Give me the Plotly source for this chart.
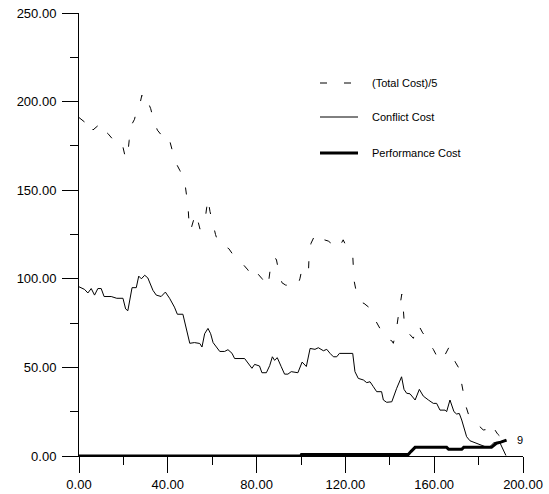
import plotly.graph_objects as go

# ---- data ----
conflict_x = [0, 1, 2.5, 4, 5.5, 7, 8.5, 10, 11.3, 14.5, 17, 19.8, 21, 22, 23.9, 25.8, 26.9, 28.1, 29.6, 31,
              33.3, 34.8, 37, 38.9, 40.8, 43, 44.3, 46.8, 48.3, 49.9, 52, 54.4, 55.4, 56.6, 58.1, 59.3, 60.4,
              61.9, 63.4, 65.6, 67.1, 68.9, 70.1, 74.6, 76.1, 77.9, 79.1, 81.3, 82.4, 84.4, 85.9, 87.1, 88.1,
              89.3, 91.1, 92.6, 94.1, 95.6, 98.6, 100.5, 102.4, 104.1, 106.3, 107.8, 110.1, 111.6, 113.1,
              114.6, 116.1, 117.3, 123.3, 124.3, 125.8, 128.1, 129.6, 131.1, 132.6, 134.1, 136.3, 137.1,
              138.6, 140.9, 143.1, 145.3, 146.4, 147.6, 149.1, 151.4, 153.3, 155.1, 157.4, 159.6, 161.1,
              162.6, 164.9, 165.6, 167.1, 168.9, 170.1, 171.3, 172.4, 173.4, 174.6, 176.1, 178.4, 180.6,
              182.9, 185.1, 186.9, 189.6, 190.4, 192.3]
conflict_y = [95.5, 95, 94, 92, 94.5, 90.8, 94.5, 94.5, 90, 90, 89, 89, 83, 82, 95, 95, 101.5, 100, 102, 100.5,
              93.5, 90.8, 90, 92.5, 89, 84, 80, 80, 72, 63.6, 64, 63.5, 61.5, 69, 72, 69, 64,
              61.7, 59, 59, 60, 58, 55, 55, 52.3, 49.5, 51.7, 50.8, 47, 47, 51, 56, 54,
              55.5, 50.4, 46.2, 46.2, 47.6, 47, 53, 50.5, 60.7, 60.2, 61.1, 59.4, 60.2, 57.9,
              56, 56, 57.9, 57.9, 47.6, 43.8, 42.9, 41.4, 41.9, 39.1, 36.3, 36.3, 31.6,
              30.3, 30.6, 38.2, 44.7, 37.6, 35.4, 35.1, 31.6, 37.6, 33.8, 31.6, 29.7, 29.7,
              25.9, 25.9, 25.0, 31.6, 25, 23.7, 24, 20.3, 15.6, 10.9, 8.6, 7.5, 6.2,
              5.3, 5.3, 7.5, 7.5, 5.3, 0.3]

perf_x = [0, 99.8, 100.2, 148.3, 149.5, 151.4, 165.6, 166.5, 172.4, 173.3, 185.8, 188, 190, 192.6]
perf_y = [0, 0, 0.8, 0.8, 2.5, 4.9, 4.9, 3.8, 3.8, 4.9, 4.9, 7.2, 7.8, 9]

total_x = [0, 1.5, 2.5, 4, 5.5, 6.3, 8, 10, 11, 13, 15.3, 18.3, 19.5, 20.6, 21.3, 21.9, 22.6, 23.3, 25, 26.3,
           27.5, 28.3, 28.8, 29.3, 31, 32.3, 33.5, 35.3, 36.8, 38.5, 40.4, 42, 43.4, 45.5, 47.6, 49.1, 49.7,
           50.2, 51, 52.5, 53.5, 54.5, 55.4, 56.6, 57.5, 58.1, 59, 60.1, 61.5, 62.9, 65.3, 67.5, 69.8, 72,
           74, 76.1, 77.5, 79.1, 80.6, 82.5, 83.9, 85.1, 86, 86.6, 87.5, 88.9, 90, 91.4, 93, 96.4, 98.3,
           99.5, 100.1, 101.5, 102.4, 103.3, 103.7, 104.5, 105.9, 107.8, 109.5, 110.5, 112.3, 114.5, 116.8,
           119, 120.5, 123.3, 123.9, 125, 126.6, 128.4, 130.5, 132.3, 134.5, 136.8, 138.5, 140.9, 141.6,
           142.8, 143.8, 145.4, 145.9, 146.4, 148, 149.5, 150.6, 151.5, 152.8, 154.8, 156.5, 158, 159.6,
           162.3, 164, 166.8, 167.9, 169.5, 171.3, 172.2, 173.1, 174.3, 175.4, 176.4, 178.5, 180.6, 182.1,
           184, 185.9, 186.6, 188.5, 190.4, 191.4, 192.3]
total_y = [191, 189.5, 188.5, 186, 188, 184, 186, 188, 184, 182, 178.6, 178.6, 176, 170, 172, 169.8, 178, 186, 190, 197,
           199, 203.6, 202.3, 204, 200, 196, 190, 183.9, 181.6, 183, 180, 172, 166, 161, 155, 141, 129,
           127, 131, 137, 133, 128, 129, 131.6, 140, 145.3, 138, 131.6, 125, 119.6, 118.6, 117, 112.8, 110,
           108, 105, 102, 104.9, 103, 100, 97.7, 95.5, 104, 110, 112, 111, 104, 97.8, 96.5, 96, 95.5,
           100, 103.5, 104, 103, 102, 115, 120, 123.7, 122.2, 124.5, 122, 121.3, 119, 116.8,
           122, 118, 113.3, 99, 92, 87, 86.1, 84, 79.3, 74, 69.2, 66, 65, 63.6,
           70, 78.6, 91.4, 86, 77.4, 70, 67.7, 66.4, 70, 74.2, 69.5, 67, 63, 60.2,
           53.6, 55, 61.7, 57.5, 53, 49.2, 42, 36, 28, 23.7, 21.8, 19, 16.2, 14.7,
           15, 18.4, 16.2, 12.5, 10.2, 8.1, 3.5]

series_names = ["(Total Cost)/5", "Conflict Cost", "Performance Cost"]
end_label = "9"
end_label_x = 196.4
end_label_y = 9

FONT = "Liberation Sans, Arial, sans-serif"

fig = go.Figure()
fig.add_trace(go.Scatter(x=total_x, y=total_y, mode="lines", name=series_names[0],
                         line=dict(color="black", width=1, dash="7px,17px"), showlegend=False))
fig.add_trace(go.Scatter(x=conflict_x, y=conflict_y, mode="lines", name=series_names[1],
                         line=dict(color="black", width=1), showlegend=False))
fig.add_trace(go.Scatter(x=perf_x, y=perf_y, mode="lines", name=series_names[2],
                         line=dict(color="black", width=3), showlegend=False))

W, H = 549, 494
L, R, T, B = 79, 26, 13, 38
pw, ph = W - L - R, H - T - B


def px(xp):
    return (xp - L) / pw


def py(yp):
    return (H - B - yp) / ph


# manual legend
legend_rows = [83, 117, 153]
legend_dash = ["7px,17px", "solid", "solid"]
legend_width = [1, 1, 3]
shapes = []
annotations = []
for name, yy, dsh, wd in zip(series_names, legend_rows, legend_dash, legend_width):
    shapes.append(dict(type="line", xref="paper", yref="paper", x0=px(320), x1=px(358),
                       y0=py(yy), y1=py(yy), line=dict(color="black", width=wd, dash=dsh)))
    annotations.append(dict(xref="paper", yref="paper", x=px(370), y=py(yy), text=name,
                            showarrow=False, xanchor="left", yanchor="middle",
                            font=dict(family=FONT, size=11, color="black")))

annotations.append(dict(x=end_label_x, y=end_label_y, text=end_label, showarrow=False,
                        xanchor="left", yanchor="middle",
                        font=dict(family=FONT, size=11, color="black")))

axis_common = dict(showline=True, linecolor="black", linewidth=1, showgrid=False, zeroline=False,
                   automargin=False,
                   ticks="outside", ticklen=16, tickwidth=1, tickcolor="black", tickformat=".2f",
                   tickfont=dict(family=FONT, size=13, color="black"))

fig.update_layout(
    width=W, height=H, autosize=False,
    margin=dict(l=L, r=R, t=T, b=B, pad=0, autoexpand=False),
    paper_bgcolor="white", plot_bgcolor="white",
    xaxis=dict(range=[0, 200], tick0=0, dtick=40,
               minor=dict(dtick=20, ticklen=8, ticks="outside", tickcolor="black", tickwidth=1, showgrid=False),
               **axis_common),
    yaxis=dict(range=[0, 250], tick0=0, dtick=50, ticklabelstandoff=3,
               minor=dict(dtick=25, ticklen=8, ticks="outside", tickcolor="black", tickwidth=1, showgrid=False),
               **axis_common),
    shapes=shapes,
    annotations=annotations,
    showlegend=False,
)

fig.write_html("out.html",
               config={"displayModeBar": False},
               post_script="document.body.style.margin='0';document.body.style.overflow='hidden';")
